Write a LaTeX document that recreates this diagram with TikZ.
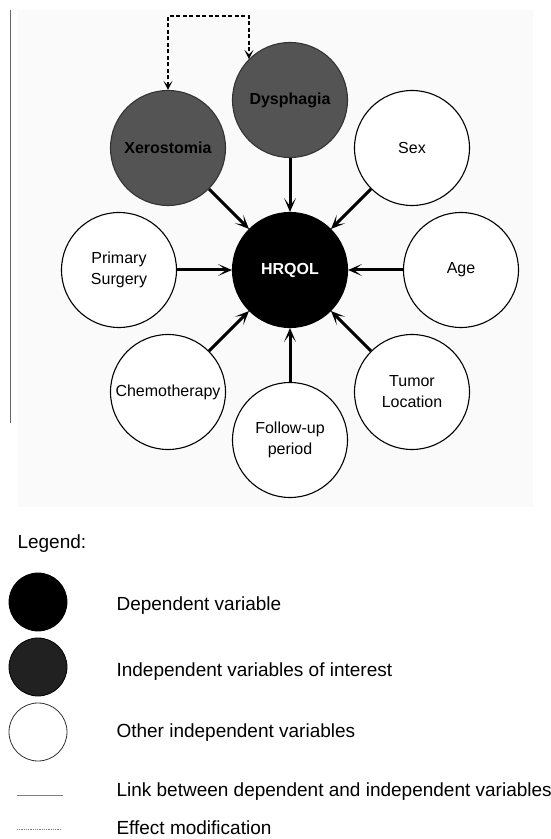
\documentclass[tikz,border=0pt]{standalone}
\usepackage{fontspec}
\setmainfont{Liberation Sans}
\usepackage{tikz}
\usetikzlibrary{positioning}
\usetikzlibrary{arrows.meta}

\begin{document}
\begin{tikzpicture}[x=1pt,y=1pt,on grid,
    >={Stealth[length=14pt,width=12pt,inset=8pt]},
    font=\fontsize{16}{21}\selectfont,
    var/.style={circle,draw,line width=1.1pt,minimum size=115pt,inner sep=0pt,align=center},
    other/.style={var,fill=white},
    interest/.style={var,fill=black!67,draw=black!80,font=\fontsize{16}{20}\selectfont\bfseries},
    dep/.style={var,fill=black,text=white,font=\fontsize{16}{20}\selectfont\bfseries},
    link/.style={line width=3pt,->},
    emod/.style={line width=1.1pt,dash pattern=on 4pt off 2.5pt,<->,
      >={Stealth[length=9pt,width=9pt,inset=4.5pt]}},
    legsym/.style={circle,draw,line width=0.8pt,minimum size=58pt,inner sep=0pt},
    legtext/.style={anchor=west,font=\fontsize{19}{22}\selectfont}]
    \useasboundingbox (0,0) rectangle (550,839);
    \fill [black!2] (18,332) rectangle (533,829);
    \draw [black!60,line width=1pt] (10,829) -- (10,416);
    % model
    \node (hrqol) [dep] at (290,569) {HRQOL};
    \node (dys)   [interest,above=170pt of hrqol] {Dysphagia};
    \node (xero)  [interest,above left=122pt and 122pt of hrqol] {Xerostomia};
    \node (sex)   [other,above right=122pt and 122pt of hrqol] {Sex};
    \node (age)   [other,right=171pt of hrqol] {Age};
    \node (tumor) [other,below right=122pt and 122pt of hrqol] {Tumor\\Location};
    \node (fup)   [other,below=170pt of hrqol] {Follow-up\\period};
    \node (chemo) [other,below left=122pt and 122pt of hrqol] {Chemotherapy};
    \node (surg)  [other,left=171pt of hrqol] {Primary\\Surgery};
    \foreach \v in {dys,xero,sex,age,tumor,fup,chemo,surg}
        \draw [link] (\v) -- (hrqol);
    \coordinate (top) at (200,823);
    \draw [emod] (xero.north) |- (top) -| (dys.135);
    % legend
    \node (legend) [legtext] at (14,295) {Legend:};
    \node (ldep) [legsym,fill=black] at (38,237) {};
    \node (lint) [legsym,fill=black!87] at (38,172) {};
    \node (loth) [legsym,fill=white,draw=black!80] at (38,107) {};
    \node (tdep) [legtext] at (113,233) {Dependent variable};
    \node (tint) [legtext] at (113,167) {Independent variables of interest};
    \node (toth) [legtext] at (113,106) {Other independent variables};
    \node (tlink) [legtext] at (113,47) {Link between dependent and independent variables};
    \node (temod) [legtext] at (113,11) {Effect modification};
    \coordinate (la) at (17,44);
    \coordinate (lb) at (63,44);
    \draw [black!50,line width=0.9pt] (la) -- (lb);
    \coordinate (ma) at (17,10);
    \coordinate (mb) at (62,10);
    \draw [black!50,line width=0.6pt,dash pattern=on 1pt off 0.8pt] (ma) -- (mb);
\end{tikzpicture}
\end{document}
